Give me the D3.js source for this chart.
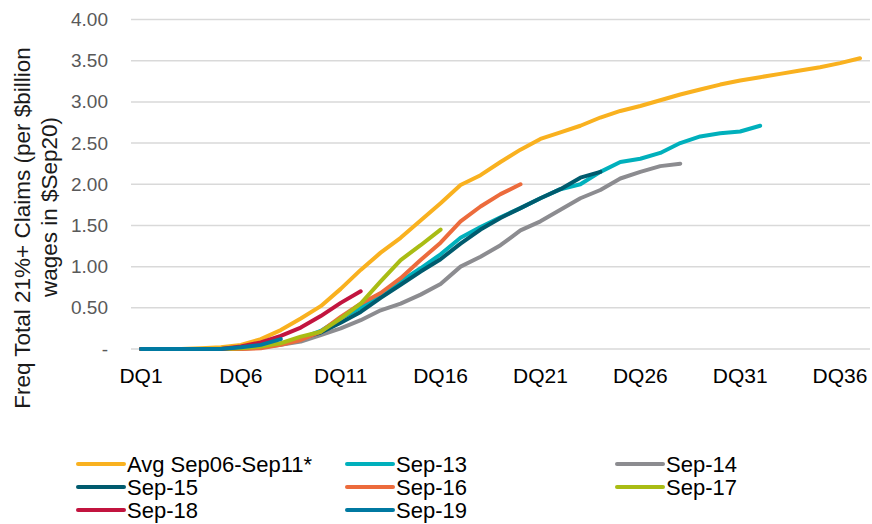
<!DOCTYPE html>
<html><head><meta charset="utf-8">
<script src="https://cdn.jsdelivr.net/npm/d3@7"></script>
<style>body{margin:0;background:#fff}svg{display:block}text{font-family:"Liberation Sans",Arial,sans-serif}</style>
</head><body><svg id="c" width="872" height="524"></svg>
<script>
const categories = ["DQ1","DQ2","DQ3","DQ4","DQ5","DQ6","DQ7","DQ8","DQ9","DQ10","DQ11","DQ12","DQ13","DQ14","DQ15","DQ16","DQ17","DQ18","DQ19","DQ20","DQ21","DQ22","DQ23","DQ24","DQ25","DQ26","DQ27","DQ28","DQ29","DQ30","DQ31","DQ32","DQ33","DQ34","DQ35","DQ36","DQ37"];
const xTickLabels = ["DQ1","DQ6","DQ11","DQ16","DQ21","DQ26","DQ31","DQ36"];
const yTicks = [0,0.5,1,1.5,2,2.5,3,3.5,4];
const seriesNames = ["Avg Sep06-Sep11*","Sep-13","Sep-14","Sep-15","Sep-16","Sep-17","Sep-18","Sep-19"];
const avgSep06Sep11 = [0,0,0,0.01,0.02,0.05,0.12,0.23,0.37,0.52,0.73,0.96,1.17,1.35,1.56,1.77,1.99,2.11,2.27,2.42,2.55,2.63,2.71,2.81,2.89,2.95,3.02,3.09,3.15,3.21,3.26,3.30,3.34,3.38,3.42,3.47,3.53];
const sep13 = [0,0,0,0,0,0.01,0.03,0.06,0.13,0.22,0.37,0.50,0.66,0.82,0.98,1.15,1.35,1.48,1.60,1.71,1.83,1.94,2.00,2.15,2.27,2.31,2.38,2.50,2.58,2.62,2.64,2.71];
const sep14 = [0,0,0,0,0,0,0.02,0.05,0.09,0.17,0.25,0.35,0.47,0.55,0.66,0.79,1.00,1.12,1.26,1.44,1.55,1.69,1.83,1.93,2.07,2.15,2.22,2.25];
const sep15 = [0,0,0,0,0,0.01,0.03,0.06,0.13,0.20,0.32,0.45,0.62,0.78,0.94,1.09,1.28,1.45,1.59,1.71,1.83,1.94,2.08,2.15];
const sep16 = [0,0,0,0,0,0,0.01,0.05,0.11,0.21,0.39,0.55,0.68,0.86,1.08,1.29,1.55,1.73,1.88,2.00];
const sep17 = [0,0,0,0,0,0.01,0.03,0.07,0.15,0.21,0.37,0.55,0.82,1.08,1.26,1.45];
const sep18 = [0,0,0,0,0,0.03,0.08,0.16,0.26,0.40,0.56,0.70];
const sep19 = [0,0,0,0,0,0.02,0.05,0.12];
const colors = ["#F9B11F","#00B0BC","#8C8C90","#005B6E","#EC6B3C","#A9BC14","#C2143F","#0079A1"];

const seriesValues = [avgSep06Sep11,sep13,sep14,sep15,sep16,sep17,sep18,sep19];
const svg = d3.select("#c");
const x = d3.scaleBand().domain(categories).range([131,870]);
const y = d3.scaleLinear().domain([0,4]).range([349,19.5]);
const cx = d => x(d) + x.bandwidth()/2;
const FONT = "Liberation Sans, Arial, sans-serif";

// gridlines
svg.append("g").selectAll("line").data(yTicks).join("line")
  .attr("x1",131).attr("x2",870)
  .attr("y1",d=>y(d)).attr("y2",d=>y(d))
  .attr("stroke","#d9d9d9").attr("stroke-width",1.5);

// y axis labels
const yAxis = d3.axisLeft(y).tickValues(yTicks).tickSize(0).tickPadding(0)
  .tickFormat(d => d === 0 ? "-" : d3.format(".2f")(d));
const gy = svg.append("g").attr("transform","translate(108,0)").call(yAxis);
gy.select(".domain").remove();
gy.selectAll("text").attr("font-size",19).attr("fill","#595959").attr("font-family",FONT);

// x axis labels
const xAxis = d3.axisBottom(x).tickValues(xTickLabels).tickSize(0).tickPadding(0);
const gx = svg.append("g").attr("transform","translate(0,368)").call(xAxis);
gx.select(".domain").remove();
gx.selectAll("text").attr("font-size",21).attr("fill","#000").attr("font-family",FONT);

// y title (two lines)
svg.append("text").attr("transform","translate(30,228) rotate(-90)")
  .attr("text-anchor","middle").attr("font-size",22.5).attr("fill","#1a1a1a")
  .text("Freq Total 21%+ Claims (per $billion");
svg.append("text").attr("transform","translate(57,207) rotate(-90)")
  .attr("text-anchor","middle").attr("font-size",22.5).attr("fill","#1a1a1a")
  .text("wages in $Sep20)");

// lines
const line = d3.line().x((d,i)=>cx(categories[i])).y(d=>y(d));
svg.append("g").selectAll("path").data(seriesValues).join("path")
  .attr("d",d=>line(d)).attr("fill","none")
  .attr("stroke",(d,i)=>colors[i]).attr("stroke-width",4)
  .attr("stroke-linecap","round").attr("stroke-linejoin","round");

// legend
const legX = [78,347,617], legY = [464,487,510];
const lg = svg.append("g").selectAll("g").data(seriesNames).join("g")
  .attr("transform",(d,i)=>`translate(${legX[i%3]},${legY[Math.floor(i/3)]})`);
lg.append("line").attr("x1",0).attr("x2",46).attr("stroke",(d,i)=>colors[i])
  .attr("stroke-width",4).attr("stroke-linecap","round");
lg.append("text").attr("x",49).attr("y",8).attr("font-size",22).attr("fill","#000").text(d=>d);
</script></body></html>
